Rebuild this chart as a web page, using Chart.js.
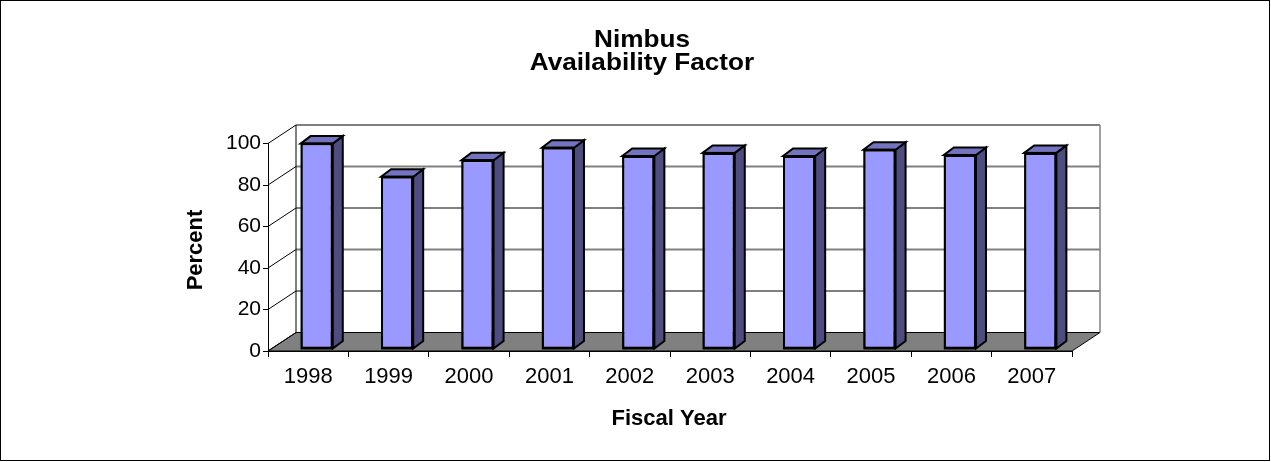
<!DOCTYPE html>
<html><head><meta charset="utf-8">
<script src="https://cdn.jsdelivr.net/npm/chart.js@4.4.1/dist/chart.umd.min.js"></script>
<style>html,body{margin:0;padding:0;background:#fff;overflow:hidden}#wrap{width:1271px;height:462px;position:relative}</style>
</head><body><div id="wrap"><canvas id="c" width="1271" height="462"></canvas></div>
<script>
const categories = ['1998', '1999', '2000', '2001', '2002', '2003', '2004', '2005', '2006', '2007'];
const availability = [99, 83, 91, 97, 93, 94.5, 93, 96, 93.5, 94.5];
const yTicks = [0, 20, 40, 60, 80, 100];
const titleLines = ['Nimbus', 'Availability Factor'];
const xTitle = 'Fiscal Year';
const yTitle = 'Percent';

const FONT = '"Liberation Sans", Arial, sans-serif';
const DX = 28, DY = -18.5;      // depth of the 3D box (back wall offset)
const BX = 8.5, BY = -2;        // bar front-face depth offset
const SDX = 10, SDY = -7.5;     // bar depth

const threeD = {
  id: 'threeD',
  beforeDatasetsDraw(chart) {
    const { ctx, chartArea: a, scales: { y } } = chart;
    ctx.save();
    // floor
    ctx.beginPath();
    ctx.moveTo(a.left, a.bottom);
    ctx.lineTo(a.right, a.bottom);
    ctx.lineTo(a.right + DX, a.bottom + DY);
    ctx.lineTo(a.left + DX, a.bottom + DY);
    ctx.closePath();
    ctx.fillStyle = '#808080';
    ctx.fill();
    ctx.strokeStyle = '#000';
    ctx.lineWidth = 1;
    ctx.stroke();
    // back wall gridlines
    ctx.strokeStyle = '#808080';
    ctx.lineWidth = 2;
    yTicks.forEach(v => {
      if (v === 0) return;
      const py = y.getPixelForValue(v) + DY;
      ctx.beginPath();
      ctx.moveTo(a.left + DX, py);
      ctx.lineTo(a.right + DX, py);
      ctx.stroke();
    });
    // back wall right edge
    ctx.lineWidth = 1.5;
    ctx.beginPath();
    ctx.moveTo(a.right + DX, y.getPixelForValue(100) + DY);
    ctx.lineTo(a.right + DX, y.getPixelForValue(0) + DY);
    ctx.stroke();
    // back wall left edge and side wall lines
    ctx.strokeStyle = '#000';
    ctx.lineWidth = 1;
    ctx.beginPath();
    ctx.moveTo(a.left + DX, y.getPixelForValue(100) + DY);
    ctx.lineTo(a.left + DX, y.getPixelForValue(0) + DY);
    ctx.stroke();
    yTicks.forEach(v => {
      const py = y.getPixelForValue(v);
      ctx.beginPath();
      ctx.moveTo(a.left, py);
      ctx.lineTo(a.left + DX, py + DY);
      ctx.stroke();
    });
    ctx.restore();
    ctx.save();
    ctx.translate(BX, BY);
  },
  afterDatasetsDraw(chart) {
    const { ctx } = chart;
    const meta = chart.getDatasetMeta(0);
    ctx.lineWidth = 2;
    ctx.strokeStyle = '#000';
    ctx.lineJoin = 'miter';
    meta.data.forEach(bar => {
      const { x, y, base, width } = bar.getProps(['x', 'y', 'base', 'width'], true);
      const l = x - width / 2, r = x + width / 2;
      // side face
      ctx.beginPath();
      ctx.moveTo(r, y);
      ctx.lineTo(r + SDX, y + SDY);
      ctx.lineTo(r + SDX, base + SDY);
      ctx.lineTo(r, base);
      ctx.closePath();
      ctx.fillStyle = '#4D4D80';
      ctx.fill();
      ctx.stroke();
      // top face
      ctx.beginPath();
      ctx.moveTo(l, y);
      ctx.lineTo(l + SDX, y + SDY);
      ctx.lineTo(r + SDX, y + SDY);
      ctx.lineTo(r, y);
      ctx.closePath();
      ctx.fillStyle = '#7373BF';
      ctx.fill();
      ctx.stroke();
      // redraw front outline
      ctx.strokeRect(l + 1, y, width - 2, base - y);
    });
    ctx.restore();
  }
};

const texts = {
  id: 'texts',
  afterDraw(chart) {
    const { ctx } = chart;
    ctx.save();
    ctx.fillStyle = '#000';
    ctx.textAlign = 'center';
    ctx.textBaseline = 'alphabetic';
    ctx.font = 'bold 24px ' + FONT;
    ctx.save();
    ctx.translate(642, 0);
    ctx.scale(1.09, 1);
    ctx.fillText(titleLines[0], 0, 47);
    ctx.fillText(titleLines[1], 0, 70);
    ctx.restore();
    ctx.font = 'bold 22px ' + FONT;
    ctx.fillText(xTitle, 669, 425);
    ctx.translate(201.5, 250);
    ctx.rotate(-Math.PI / 2);
    ctx.fillText(yTitle, 0, 0);
    ctx.restore();
    ctx.save();
    ctx.strokeStyle = '#000';
    ctx.lineWidth = 1;
    ctx.strokeRect(0.5, 0.5, chart.width - 2, chart.height - 2);
    ctx.restore();
  }
};

new Chart(document.getElementById('c'), {
  type: 'bar',
  data: {
    labels: categories,
    datasets: [{
      data: availability,
      backgroundColor: '#9999FF',
      borderColor: '#000',
      borderWidth: 2,
      borderSkipped: false,
      categoryPercentage: 1,
      barPercentage: 0.4,
      clip: false
    }]
  },
  options: {
    responsive: false,
    animation: false,
    devicePixelRatio: 1,
    layout: { padding: { left: 208, right: 199, top: 143.5, bottom: 51 } },
    plugins: { legend: { display: false }, title: { display: false }, tooltip: { enabled: false } },
    scales: {
      x: {
        type: 'category',
        afterFit(s) { s.height = 60; },
        grid: { offset: true, drawOnChartArea: false, drawTicks: true, tickLength: 6, color: '#000', lineWidth: 1 },
        border: { display: true, color: '#000', width: 1 },
        ticks: { font: { family: FONT, size: 22 }, color: '#000', padding: 7, maxRotation: 0, autoSkip: false }
      },
      y: {
        min: 0, max: 100,
        afterFit(s) { s.width = 60; },
        grid: { drawOnChartArea: false, drawTicks: true, tickLength: 5, color: '#000', lineWidth: 1 },
        border: { display: true, color: '#000', width: 1 },
        ticks: { stepSize: 20, font: { family: FONT, size: 21 }, color: '#000', padding: 2 }
      }
    }
  },
  plugins: [threeD, texts]
});
</script></body></html>
